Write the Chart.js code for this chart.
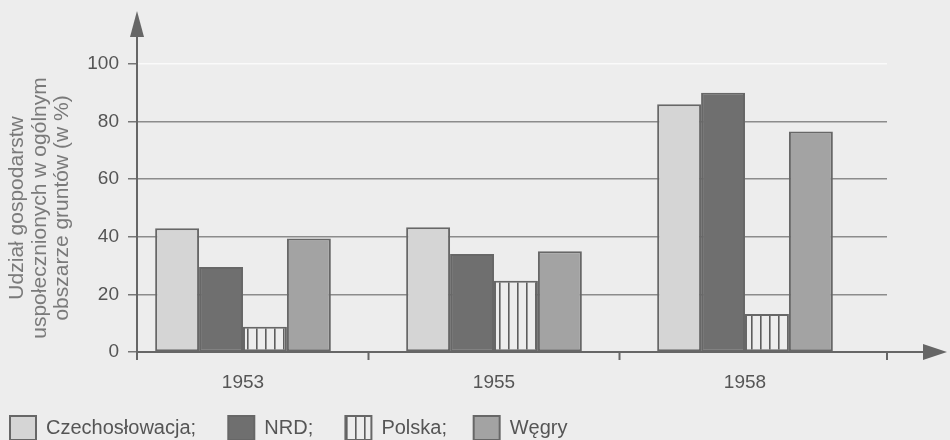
<!DOCTYPE html>
<html><head><meta charset="utf-8">
<script src="https://cdn.jsdelivr.net/npm/chart.js@4.4.1/dist/chart.umd.min.js"></script>
<style>html,body{margin:0;padding:0;background:#ededed;} #wrap{width:950px;height:440px;position:relative;} canvas{display:block}</style>
</head><body><div id="wrap"><canvas id="c"></canvas></div>
<script>
const years = ['1953', '1955', '1958'];
const czechoslovakia = [43, 43.3, 86];
const gdr = [29.5, 34, 90];
const poland = [8.8, 24.7, 13.2];
const hungary = [39.4, 35, 76.6];
const seriesNames = ['Czechosłowacja', 'NRD', 'Polska', 'Węgry'];
const yTitle = ['Udział gospodarstw', 'uspołecznionych w ogólnym', 'obszarze gruntów (w %)'];

const BG = '#ededed';
const FONT = "'Liberation Sans', Arial, Helvetica, sans-serif";
Chart.defaults.font.family = FONT;

function stripePattern() {
  const c = document.createElement('canvas');
  c.width = 9; c.height = 9;
  const g = c.getContext('2d');
  g.fillStyle = BG; g.fillRect(0, 0, 9, 9);
  g.fillStyle = '#5e5e5e'; g.fillRect(4, 0, 1.6, 9);
  return g.createPattern(c, 'repeat');
}

const toPts = arr => arr.map((v, i) => ({x: i, y: v}));

const axesDeco = {
  id: 'axesDeco',
  afterDatasetsDraw(chart) {
    const {ctx, chartArea: a, scales: {x, y}} = chart;
    const y0 = y.getPixelForValue(0);
    ctx.save();
    ctx.strokeStyle = '#666'; ctx.fillStyle = '#666'; ctx.lineWidth = 2;
    // x axis
    ctx.beginPath(); ctx.moveTo(a.left - 1, y0); ctx.lineTo(chart.width - 24, y0); ctx.stroke();
    ctx.beginPath(); ctx.moveTo(chart.width - 3, y0); ctx.lineTo(chart.width - 27, y0 - 8); ctx.lineTo(chart.width - 27, y0 + 8); ctx.closePath(); ctx.fill();
    // x tick marks between groups
    const marks = [x.getPixelForValue(0.5), x.getPixelForValue(1.5), a.right];
    marks.forEach(px => { ctx.beginPath(); ctx.moveTo(px, y0); ctx.lineTo(px, y0 + 8); ctx.stroke(); });
    // y axis
    ctx.beginPath(); ctx.moveTo(a.left, y0 + 8); ctx.lineTo(a.left, 34); ctx.stroke();
    ctx.beginPath(); ctx.moveTo(a.left, 11); ctx.lineTo(a.left - 7, 37); ctx.lineTo(a.left + 7, 37); ctx.closePath(); ctx.fill();
    ctx.restore();
  }
};

const pattern = stripePattern();
const fills = ['#d5d5d5', '#6f6f6f', pattern, '#a3a3a3'];
const seriesData = [czechoslovakia, gdr, poland, hungary];

new Chart(document.getElementById('c'), {
  type: 'bar',
  data: {
    datasets: seriesData.map((d, k) => ({
      label: seriesNames[k],
      data: toPts(d),
      backgroundColor: fills[k],
      borderColor: '#676767',
      borderWidth: 2,
      borderSkipped: false
    }))
  },
  options: {
    responsive: true, maintainAspectRatio: false, animation: false,
    layout: {padding: {top: 64, right: 63, left: 0, bottom: 0}},
    datasets: {bar: {categoryPercentage: 0.7, barPercentage: 1.0}},
    scales: {
      x: {
        type: 'linear', min: -0.4223, max: 2.5657, offset: false,
        afterBuildTicks: ax => { ax.ticks = years.map((_, i) => ({value: i})); },
        ticks: {callback: v => years[v], font: {size: 19}, color: '#555', padding: 19, maxRotation: 0, autoSkip: false},
        grid: {display: false, drawTicks: false, offset: false},
        border: {display: false},
        afterFit: s => { s.height = 54; }
      },
      y: {
        min: 0, max: 100,
        ticks: {stepSize: 20, font: {size: 19}, color: '#555', padding: 9},
        grid: {
          color: c => c.tick.value === 0 ? 'rgba(0,0,0,0)' : (c.tick.value === 100 ? 'rgba(255,255,255,0.7)' : '#8c8c8c'),
          lineWidth: 1.5, tickLength: 9, tickColor: '#777', tickWidth: 1.5
        },
        border: {display: false},
        title: {display: true, text: yTitle, color: '#7a7a7a', font: {size: 21, lineHeight: 1.07}, padding: {top: 6, bottom: 0}},
        afterFit: s => { s.width = 137; }
      }
    },
    plugins: {
      legend: {
        position: 'bottom', align: 'start', maxHeight: 34,
        labels: {
          boxWidth: 26, boxHeight: 24, padding: 10, color: '#555', font: {size: 20},
          generateLabels: chart => {
            const items = Chart.defaults.plugins.legend.labels.generateLabels(chart);
            const pads = ['    ', '    ', '   ', ''];
            return items.map((it, i) => Object.assign(it, {text: it.text + (i < items.length - 1 ? ';' : '') + pads[i], lineWidth: 2, strokeStyle: '#676767'}));
          }
        }
      },
      tooltip: {enabled: false}
    }
  },
  plugins: [axesDeco]
});
</script>
</body></html>
